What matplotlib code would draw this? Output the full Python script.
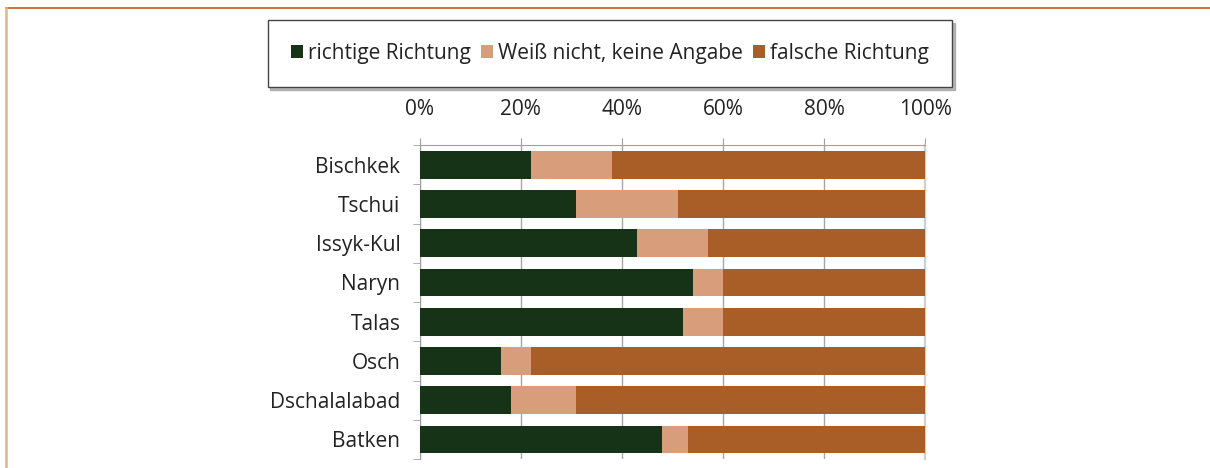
import matplotlib
matplotlib.use('Agg')

import matplotlib.pyplot as plt
from matplotlib.lines import Line2D
from matplotlib.ticker import FuncFormatter, MultipleLocator
import numpy as np

plt.rcParams['font.family'] = ['Open Sans', 'DejaVu Sans']

# data (percent)
regions = ['Bischkek', 'Tschui', 'Issyk-Kul', 'Naryn', 'Talas', 'Osch', 'Dschalalabad', 'Batken']
right_dir = [22, 31, 43, 54, 52, 16, 18, 48]
dont_know = [16, 20, 14, 6, 8, 6, 13, 5]
wrong_dir = [62, 49, 43, 40, 40, 78, 69, 47]
series_names = ['richtige Richtung', 'Weiß nicht, keine Angabe', 'falsche Richtung']
colors = ['#163318', '#d89d7b', '#a95d27']

fig = plt.figure(figsize=(12.1, 4.68), dpi=100)
ax = fig.add_axes([0.347, 0.019, 0.4175, 0.671])

y = np.arange(len(regions))
left = np.zeros(len(regions))
for vals, name, col in zip([right_dir, dont_know, wrong_dir], series_names, colors):
    ax.barh(y, vals, left=left, height=0.71, color=col, label=name, zorder=3)
    left += np.array(vals)

ax.set_xlim(0, 100)
ax.set_ylim(len(regions) - 0.5, -0.5)
ax.xaxis.set_major_locator(MultipleLocator(20))
ax.xaxis.set_major_formatter(FuncFormatter(lambda v, p: f'{int(v)}%'))
ax.xaxis.tick_top()
ax.tick_params(axis='x', length=5, color='#a0a0a0', pad=13, labelsize=15, colors='#222222')
ax.grid(axis='x', color='#a6a6a6', lw=1, zorder=0)

ax.set_yticks(y)
ax.set_yticklabels(regions)
ax.set_yticks(np.arange(len(regions) + 1) - 0.5, minor=True)
ax.tick_params(axis='y', which='major', length=0, pad=14, labelsize=15, labelcolor='#222222')
ax.tick_params(axis='y', which='minor', length=5, color='#a0a0a0')

ax.spines['bottom'].set_visible(False)
ax.spines['top'].set_color('#a0a0a0')
ax.spines['left'].set_color('#a0a0a0')
ax.spines['right'].set_color('#cfcfcf')
ax.spines['right'].set_linewidth(1.6)

leg = fig.legend(loc='center', bbox_to_anchor=(0.504, 0.886), ncol=3, fontsize=15,
                 frameon=True, fancybox=False,
                 shadow={'color': '#9a9a9a', 'alpha': 0.7},
                 edgecolor='#444444',
                 handlelength=0.6, handleheight=0.6, handletextpad=0.25,
                 columnspacing=0.45, borderpad=1.1, borderaxespad=0)
leg.get_frame().set_linewidth(1.0)
for t in leg.get_texts():
    t.set_color('#222222')

# orange frame lines of the surrounding box
fig.add_artist(Line2D([6 / 1210, 1], [1 - 8 / 468, 1 - 8 / 468], color='#c8692a', lw=1.3))
fig.add_artist(Line2D([6 / 1210, 6 / 1210], [0, 1 - 8 / 468], color='#e2b283', lw=1.8))

fig.savefig('out.png', dpi=100)
